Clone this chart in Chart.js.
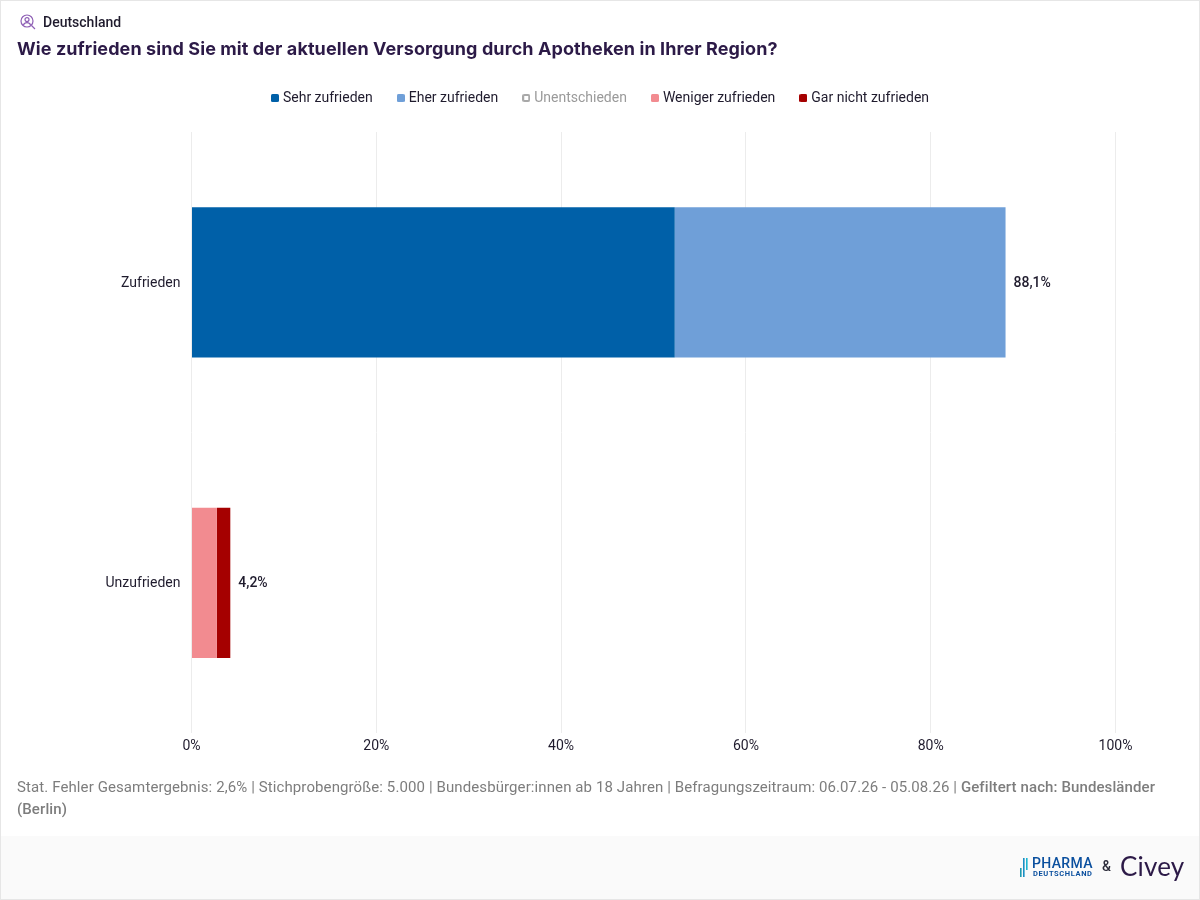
<!DOCTYPE html>
<html lang="de"><head><meta charset="utf-8">
<script src="https://cdn.jsdelivr.net/npm/chart.js@4"></script>
<style>
html,body{margin:0;padding:0;background:#fff}
#card{position:relative;width:1200px;height:900px;overflow:hidden;font-family:Roboto,sans-serif;background:#fff}
#frame{position:absolute;left:0;top:0;width:1198px;height:898px;border:1px solid #e6e6e6;pointer-events:none;z-index:5}
#band{position:absolute;left:1px;top:836px;width:1198px;height:63px;background:#fafafa}
canvas{position:absolute;left:0;top:0}
#tag{position:absolute;left:43px;top:14px;font:500 14px/17px Roboto;color:#1f1b2d}
#icon{position:absolute;left:20px;top:14px}
#title{position:absolute;left:17px;top:37px;font:700 18px/23px Inter;color:#2c1a47;white-space:nowrap;letter-spacing:.09px}
#foot{position:absolute;left:17px;top:776px;width:1166px;font:400 15px/22px Roboto;color:#7d7d7d;letter-spacing:.102px}
#foot b{font-weight:500}
#ph1{position:absolute;left:1032px;top:856px;font:500 14px/15px Roboto;color:#0a4f9e;letter-spacing:.35px}
#ph2{position:absolute;left:1033px;top:870px;font:700 7.5px/8px Roboto;color:#0a4f9e;letter-spacing:.62px}
#amp{position:absolute;left:1102px;top:859px;font:500 14px/15px Roboto;color:#2c2c3a}
#civey{position:absolute;left:1120px;top:851px;font:400 26px/30px Lato;color:#2c1a47;letter-spacing:.2px}
#mark{position:absolute;left:1020px;top:858px}
</style></head><body>
<div id="card">
<div id="band"></div>
<canvas id="c" width="1200" height="900"></canvas>
<svg id="icon" width="16" height="16" viewBox="0 0 16 16" fill="none" stroke="#8e5fb5" stroke-width="1.2"><circle cx="7" cy="7" r="6"/><circle cx="7" cy="5.6" r="2"/><path d="M3.4 11c.7-1.8 2-2.4 3.6-2.4s2.9.6 3.6 2.4M11.5 11.5l3.5 3.5"/></svg>
<div id="tag">Deutschland</div>
<div id="title">Wie zufrieden sind Sie mit der aktuellen Versorgung durch Apotheken in Ihrer Region?</div>
<div id="foot">Stat. Fehler Gesamtergebnis: 2,6% | Stichprobengröße: 5.000 | Bundesbürger:innen ab 18 Jahren | Befragungszeitraum: 06.07.26 - 05.08.26 | <b>Gefiltert nach: Bundesländer (Berlin)</b></div>
<svg id="mark" width="8" height="20" viewBox="0 0 8 20"><rect x="0" y="10" width="1.6" height="9" fill="#1f9bb0"/><rect x="3" y="0" width="1.6" height="19" fill="#1a8fc4"/><rect x="6" y="0" width="1.6" height="12" fill="#19b5d0"/></svg>
<div id="ph1">PHARMA</div>
<div id="ph2">DEUTSCHLAND</div>
<div id="amp">&amp;</div>
<div id="civey">Civey</div>
</div>
<script>
const categories = ["Zufrieden", "Unzufrieden"];
const seriesNames = ["Sehr zufrieden", "Eher zufrieden", "Unentschieden", "Weniger zufrieden", "Gar nicht zufrieden"];
const sehrZufrieden = [52.3, 0];
const eherZufrieden = [35.8, 0];
const unentschieden = [0, 0];
const wenigerZufrieden = [0, 2.75];
const garNichtZufrieden = [0, 1.45];
const seriesColors = ["#0060a8", "#6f9fd8", "#ffffff", "#f28b90", "#a50000"];
const xTicks = [0, 20, 40, 60, 80, 100];

const seriesValues = [sehrZufrieden, eherZufrieden, unentschieden, wenigerZufrieden, garNichtZufrieden];
const inkDark = "#1f1b2d";

function marker(color, hollow) {
  const m = document.createElement("canvas");
  m.width = 8; m.height = 8;
  const g = m.getContext("2d");
  g.beginPath();
  if (hollow) {
    g.strokeStyle = "#a8a8a8"; g.lineWidth = 2;
    g.roundRect(1, 1, 6, 6, 1); g.stroke();
  } else {
    g.fillStyle = color;
    g.roundRect(0, 0, 8, 8, 1.5); g.fill();
  }
  return m;
}

const legendPlacement = {
  id: "legendPlacement",
  beforeLayout(chart) {
    const l = chart.legend;
    if (l && !l.__patched) {
      const fit = l.fit;
      l.fit = function () { fit.call(this); this.height = 68; };
      l.__patched = true;
    }
  },
  beforeDraw(chart) {
    chart.legend.left = 0;
    chart.legend.right = chart.width + 3;
  }
};

const totalLabels = {
  id: "totalLabels",
  afterDatasetsDraw(chart) {
    const ctx = chart.ctx, x = chart.scales.x, y = chart.scales.y;
    ctx.save();
    ctx.font = "500 14px Roboto";
    ctx.fillStyle = inkDark;
    ctx.textAlign = "left";
    ctx.textBaseline = "middle";
    categories.forEach((c, i) => {
      const total = seriesValues.reduce((s, v) => s + v[i], 0);
      ctx.fillText(total.toFixed(1).replace(".", ",") + "%", x.getPixelForValue(total) + 8, y.getPixelForValue(i) + 1);
    });
    ctx.restore();
  }
};

new Chart(document.getElementById("c"), {
  type: "bar",
  data: {
    labels: categories,
    datasets: seriesNames.map((n, i) => ({
      label: n, data: seriesValues[i], backgroundColor: seriesColors[i],
      borderWidth: 0, barPercentage: 0.5, categoryPercentage: 1
    }))
  },
  plugins: [legendPlacement, totalLabels],
  options: {
    indexAxis: "y",
    responsive: false,
    animation: false,
    devicePixelRatio: 1,
    events: [],
    layout: { padding: { top: 64, right: 84.5, bottom: 140, left: 0 } },
    plugins: {
      tooltip: { enabled: false },
      legend: {
        position: "top",
        align: "center",
        labels: {
          usePointStyle: true,
          pointStyleWidth: 2,
          boxHeight: 8,
          padding: 27,
          font: { family: "Roboto", size: 14 },
          generateLabels(chart) {
            return chart.data.datasets.map((d, i) => ({
              text: d.label,
              datasetIndex: i,
              pointStyle: marker(d.backgroundColor, i === 2),
              fillStyle: d.backgroundColor,
              strokeStyle: d.backgroundColor,
              lineWidth: 0,
              fontColor: i === 2 ? "#9a9a9a" : inkDark,
              hidden: false
            }));
          }
        }
      }
    },
    scales: {
      x: {
        type: "linear", stacked: true, min: 0, max: 100,
        afterFit(s) { s.height = 27; },
        afterBuildTicks(s) { s.ticks = xTicks.map(v => ({ value: v })); },
        border: { display: false },
        grid: { color: "#ececec", drawTicks: false, lineWidth: 1 },
        ticks: { padding: 5, color: inkDark, maxRotation: 0, font: { family: "Roboto", size: 14 }, callback: v => v + "%" }
      },
      y: {
        type: "category", stacked: true,
        afterFit(s) { s.width = 191.5; },
        border: { display: false },
        grid: { display: false, drawTicks: false },
        ticks: { padding: 11, labelOffset: 1, color: inkDark, font: { family: "Roboto", size: 14 } }
      }
    }
  }
});
</script>
<div id="frame" style="position:absolute"></div>
</body></html>
